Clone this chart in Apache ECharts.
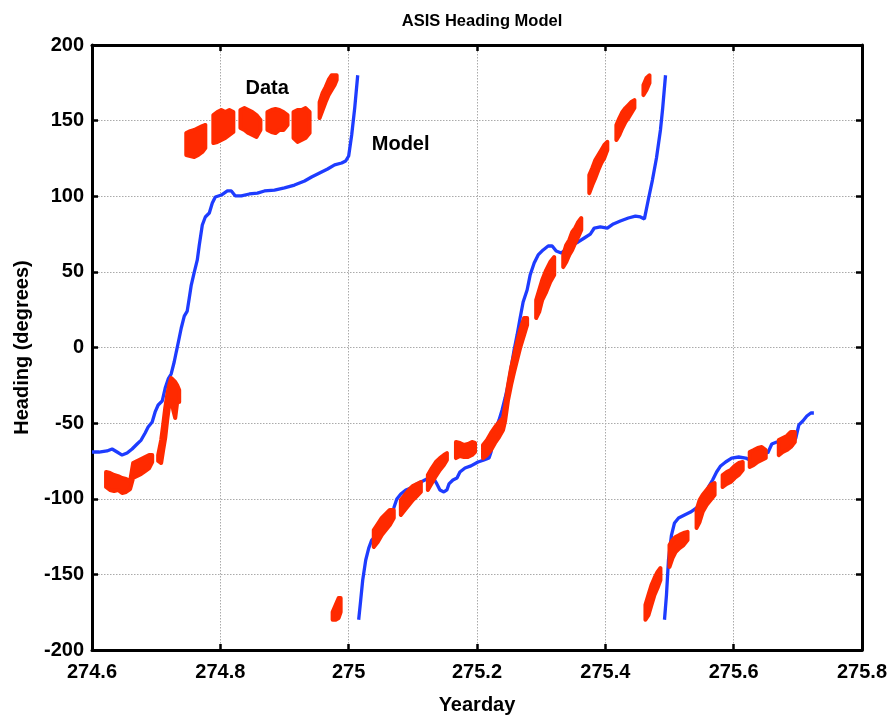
<!DOCTYPE html>
<html>
<head>
<meta charset="utf-8">
<script src="https://cdn.jsdelivr.net/npm/echarts@6/dist/echarts.min.js"></script>
<style>
html,body{margin:0;padding:0;background:#fff;}
#chart{width:896px;height:723px;}
</style>
</head>
<body>
<div id="chart"></div>
<script>
// ---- Model (blue line), three wrapped segments: [yearday, heading]
const modelA = [
  [274.6000,-69.1],[274.6109,-69.1],[274.6234,-68.4],[274.6313,-67.1],[274.6391,-69.1],
  [274.6469,-71.1],[274.6547,-69.8],[274.6625,-67.1],[274.6703,-63.8],[274.6766,-61.2],
  [274.6828,-56.5],[274.6875,-52.6],[274.6938,-49.3],[274.6984,-42.6],[274.7031,-38.0],
  [274.7094,-35.4],[274.7141,-26.8],[274.7188,-20.8],[274.7234,-17.5],[274.7281,-9.6],
  [274.7313,-3.0],[274.7359,6.3],[274.7391,12.9],[274.7438,20.8],[274.7484,24.1],
  [274.7516,32.7],[274.7547,41.3],[274.7594,49.9],[274.7641,57.9],[274.7672,67.8],
  [274.7719,81.0],[274.7766,86.3],[274.7828,88.9],[274.7875,95.5],[274.7922,99.5],
  [274.8016,100.8],[274.8109,103.5],[274.8172,103.5],[274.8234,100.2],[274.8328,100.2],
  [274.8453,101.5],[274.8578,102.1],[274.8688,103.5],[274.8844,104.1],[274.9000,105.5],
  [274.9156,107.4],[274.9313,110.1],[274.9422,112.7],[274.9547,115.4],[274.9672,118.0],
  [274.9781,120.7],[274.9891,122.0],[274.9953,123.3],[275.0000,126.6],[275.0047,140.5],
  [275.0094,158.3],[275.0141,180.0]
];
const modelB = [
  [275.0156,-180.0],[275.0188,-166.9],[275.0219,-153.7],[275.0266,-140.5],[275.0313,-132.6],
  [275.0359,-127.3],[275.0422,-124.6],[275.0500,-120.7],[275.0578,-116.7],[275.0656,-111.4],
  [275.0703,-106.1],[275.0750,-100.2],[275.0813,-96.9],[275.0891,-94.2],[275.0969,-92.9],
  [275.1063,-90.2],[275.1156,-88.3],[275.1250,-86.3],[275.1328,-86.9],[275.1375,-90.2],
  [275.1422,-94.2],[275.1484,-95.5],[275.1531,-94.2],[275.1563,-90.2],[275.1625,-87.6],
  [275.1688,-86.3],[275.1734,-82.3],[275.1813,-79.7],[275.1906,-78.3],[275.2016,-75.7],
  [275.2109,-74.4],[275.2188,-73.1],[275.2219,-69.1],[275.2250,-61.2],[275.2297,-53.2],
  [275.2344,-47.9],[275.2391,-41.3],[275.2438,-33.4],[275.2484,-24.8],[275.2531,-13.6],
  [275.2578,-1.7],[275.2625,8.3],[275.2672,19.5],[275.2719,30.1],[275.2781,38.0],
  [275.2828,47.9],[275.2891,55.9],[275.2953,61.2],[275.3031,64.5],[275.3109,67.1],
  [275.3172,67.1],[275.3234,63.8],[275.3313,62.5],[275.3391,65.1],[275.3484,67.8],
  [275.3578,69.8],[275.3672,72.4],[275.3766,75.0],[275.3828,79.0],[275.3922,79.7],
  [275.4031,79.0],[275.4125,81.7],[275.4234,83.6],[275.4359,85.6],[275.4469,86.9],
  [275.4547,86.3],[275.4609,85.0],[275.4672,98.2],[275.4734,110.7],[275.4797,125.3],
  [275.4859,143.8],[275.4891,157.0],[275.4938,180.0]
];
const modelC = [
  [275.4922,-180.0],[275.4953,-163.6],[275.4984,-140.5],[275.5031,-124.0],[275.5078,-116.0],
  [275.5141,-112.7],[275.5234,-110.7],[275.5328,-108.8],[275.5422,-106.1],[275.5484,-102.8],
  [275.5547,-98.2],[275.5609,-92.2],[275.5672,-87.6],[275.5734,-82.3],[275.5797,-78.3],
  [275.5875,-75.7],[275.5969,-73.1],[275.6078,-72.4],[275.6188,-73.1],[275.6250,-74.4],
  [275.6313,-69.1],[275.6391,-67.1],[275.6469,-67.8],[275.6531,-69.8],[275.6594,-63.8],
  [275.6672,-62.5],[275.6750,-63.8],[275.6828,-66.4],[275.6906,-65.1],[275.6969,-59.8],
  [275.7016,-51.2],[275.7078,-48.6],[275.7141,-45.3],[275.7203,-43.3],[275.7250,-43.3]
];

// ---- Data (red scatter bands): [yearday, lowest heading, highest heading]
const dataA = [
  [274.6219,-92.2,-82.3],[274.6281,-94.2,-83.0],[274.6344,-94.9,-84.3],[274.6406,-94.2,-85.0],
  [274.6469,-96.2,-86.3],[274.6531,-95.5,-86.9],[274.6594,-93.6,-88.3],
  [274.6641,-86.3,-76.4],[274.6703,-85.0,-75.0],[274.6766,-83.6,-73.7],[274.6828,-81.7,-72.4],
  [274.6891,-79.7,-71.1],[274.6938,-75.7,-71.1],
  [274.7031,-75.0,-71.1],[274.7078,-76.4,-61.2],[274.7109,-67.8,-51.2],[274.7141,-59.8,-40.0],
  [274.7172,-47.9,-31.4],[274.7203,-38.0,-24.8],[274.7234,-34.7,-20.2],[274.7266,-41.3,-21.5],
  [274.7297,-46.6,-22.8],[274.7328,-36.0,-25.0],[274.7359,-36.0,-28.1]
];
const dataB = [
  [274.7469,127.3,141.8],[274.7531,126.6,143.1],[274.7594,126.0,143.8],[274.7656,127.3,145.1],
  [274.7719,129.3,146.4],[274.7766,131.9,147.1],
  [274.7891,135.2,153.7],[274.7953,135.9,155.7],[274.8016,137.2,157.0],[274.8078,138.5,155.7],
  [274.8141,140.5,157.0],[274.8203,142.5,155.7],
  [274.8313,145.1,157.0],[274.8375,143.8,158.3],[274.8438,141.8,157.0],[274.8500,140.5,155.7],
  [274.8563,139.2,153.7],[274.8625,143.8,150.4],
  [274.8734,143.8,155.7],[274.8797,142.5,157.0],[274.8859,141.8,157.7],[274.8922,143.8,157.0],
  [274.8984,143.8,155.7],[274.9047,147.1,153.7],
  [274.9141,138.5,155.7],[274.9203,135.9,157.0],[274.9266,137.2,157.0],[274.9328,138.5,158.3],
  [274.9391,141.8,155.7],[274.9484,152.4,152.4],
  [274.9547,151.7,162.3],[274.9594,157.0,168.3],[274.9641,162.3,172.2],[274.9688,166.9,176.9],
  [274.9734,170.2,180.0],[274.9781,173.6,180.0],[274.9813,176.9,180.0]
];
const dataC = [
  [274.9750,-180.0,-174.9],[274.9797,-180.0,-170.2],[274.9844,-178.8,-165.6],[274.9875,-174.9,-165.6]
];
const dataD = [
  [275.0219,-142.5,-142.5],
  [275.0391,-131.9,-120.7],[275.0453,-128.6,-116.7],[275.0516,-123.9,-112.7],[275.0578,-120.7,-110.1],
  [275.0641,-117.4,-107.4],[275.0703,-112.7,-107.4],
  [275.0813,-110.7,-100.8],[275.0875,-107.4,-97.5],[275.0938,-104.1,-94.2],[275.1000,-100.8,-91.6],
  [275.1063,-98.2,-90.2],[275.1125,-95.5,-88.9],
  [275.1234,-94.2,-84.3],[275.1297,-89.6,-79.7],[275.1359,-85.0,-75.7],[275.1422,-81.0,-73.1],
  [275.1484,-77.7,-71.1],[275.1531,-74.4,-69.8],
  [275.1672,-73.1,-62.5],[275.1734,-71.7,-63.1],[275.1797,-72.4,-64.5],[275.1859,-72.4,-63.8],
  [275.1922,-71.1,-62.5],[275.1969,-69.1,-63.1],
  [275.2094,-73.1,-64.5],[275.2156,-71.1,-61.2],[275.2219,-67.8,-56.5],[275.2281,-63.1,-52.6],
  [275.2344,-59.2,-49.3],[275.2406,-54.5,-46.6],[275.2438,-48.6,-38.7],[275.2484,-34.7,-24.8],
  [275.2531,-24.8,-13.6],[275.2578,-16.2,-5.0],[275.2625,-8.3,3.6],[275.2672,-0.3,11.6],
  [275.2734,8.3,19.5],[275.2781,14.9,19.5],
  [275.2922,19.5,31.4],[275.2969,23.5,38.0],[275.3016,31.4,44.6],[275.3078,36.7,51.2],
  [275.3141,43.3,56.5],[275.3203,47.9,59.8],[275.3266,56.5,56.5],
  [275.3344,53.2,61.2],[275.3391,56.5,67.8],[275.3438,61.2,71.1],[275.3484,64.5,76.4],
  [275.3531,69.1,79.0],[275.3578,73.1,83.0],[275.3625,77.7,85.6],
  [275.3703,98.2,98.2],
  [275.3750,102.1,114.0],[275.3797,107.4,118.7],[275.3844,112.1,124.0],[275.3891,117.4,127.3],
  [275.3938,122.0,130.6],[275.3984,125.3,133.9],[275.4031,130.6,136.0],
  [275.4172,137.2,147.1],[275.4219,140.5,151.7],[275.4266,145.1,155.7],[275.4313,149.1,158.3],
  [275.4359,151.7,160.3],[275.4406,155.0,162.3],[275.4453,158.3,163.6],
  [275.4594,166.9,173.6],[275.4641,170.2,178.2],[275.4688,174.9,180.0]
];
const dataE = [
  [275.4625,-180.0,-170.2],[275.4672,-176.9,-163.6],[275.4719,-170.2,-157.0],[275.4766,-163.6,-152.4],
  [275.4813,-159.0,-148.4],[275.4859,-153.7,-145.8],
  [275.5000,-145.1,-130.6],[275.5047,-139.2,-127.3],[275.5094,-135.2,-125.3],[275.5156,-132.6,-123.9],
  [275.5219,-130.6,-122.6],[275.5281,-127.3,-121.9],[275.5375,-119.3,-119.3],
  [275.5422,-119.3,-107.4],[275.5469,-115.4,-100.8],[275.5516,-108.8,-97.5],[275.5578,-104.1,-94.2],
  [275.5641,-100.8,-90.9],[275.5703,-97.5,-89.6],
  [275.5828,-92.2,-84.3],[275.5891,-90.2,-82.3],[275.5953,-88.9,-81.0],[275.6016,-86.3,-78.3],
  [275.6078,-84.3,-76.4],[275.6141,-81.0,-75.7],
  [275.6250,-79.0,-69.1],[275.6313,-77.7,-67.8],[275.6375,-75.7,-66.4],[275.6438,-74.4,-65.8],
  [275.6500,-73.1,-67.8],
  [275.6703,-71.1,-61.2],[275.6766,-69.1,-59.8],[275.6828,-67.8,-58.5],[275.6891,-65.8,-55.9],
  [275.6953,-62.5,-55.9]
];

// ---- Text annotations placed at data coordinates
const labelData = {text: 'Data', at: [274.873, 171.5]};
const labelModel = {text: 'Model', at: [275.081, 134.5]};

const RED = '#ff2a00';
const BLUE = '#1e3cff';
const FONT = '"Liberation Sans", Arial, sans-serif';
const JOIN_GAP = 0.0075; // consecutive samples closer than this belong to one blob

const chart = echarts.init(document.getElementById('chart'), null, {renderer: 'canvas'});

function fmt(v){ return String(parseFloat(Number(v).toFixed(1))); }

const axisCommon = {
  axisLine: {show: true, onZero: false, lineStyle: {color: '#000', width: 3}},
  axisTick: {show: true, inside: true, length: 6, lineStyle: {color: '#000', width: 2.5}},
  splitLine: {show: false}
};

// Split a band array into runs of adjacent samples (blobs)
function runStarts(arr){
  const starts = {};
  let s = 0;
  for (let i = 0; i < arr.length; i++) {
    const isDot = arr[i][1] === arr[i][2];
    const joins = i > 0 && !isDot && arr[i-1][1] !== arr[i-1][2] && (arr[i][0] - arr[i-1][0] < JOIN_GAP);
    if (!joins) { s = i; starts[s] = [i]; } else { starts[s].push(i); }
  }
  return starts;
}

function bandSeries(arr){
  const runs = runStarts(arr);
  return {
    type: 'custom',
    xAxisIndex: 0, yAxisIndex: 0,
    z: 5,
    clip: true,
    encode: {x: 0, y: [1, 2]},
    data: arr,
    renderItem: function(params, api){
      const run = runs[params.dataIndex];
      if (!run) return null;
      if (run.length === 1) {
        const d = arr[run[0]];
        const a = api.coord([d[0], d[1]]);
        const b = api.coord([d[0], d[2]]);
        return {
          type: 'line',
          shape: {x1: a[0], y1: a[1], x2: b[0], y2: b[1]},
          style: {stroke: RED, lineWidth: 4.5, lineCap: 'round'}
        };
      }
      const pts = [];
      run.forEach(function(k){ pts.push(api.coord([arr[k][0], arr[k][2]])); });
      for (let j = run.length - 1; j >= 0; j--) { const k = run[j]; pts.push(api.coord([arr[k][0], arr[k][1]])); }
      return {
        type: 'polygon',
        shape: {points: pts},
        style: {fill: RED, stroke: RED, lineWidth: 4, lineJoin: 'round'}
      };
    }
  };
}

function lineSeries(arr, extra){
  return Object.assign({
    type: 'line',
    xAxisIndex: 0, yAxisIndex: 0,
    data: arr,
    showSymbol: false,
    symbol: 'none',
    smooth: false,
    z: 3,
    lineStyle: {color: BLUE, width: 3.3},
    itemStyle: {color: BLUE}
  }, extra || {});
}

const mpLabel = {
  show: true, position: 'inside', color: '#000',
  fontFamily: FONT, fontWeight: 'bold', fontSize: 20
};

const option = {
  animation: false,
  backgroundColor: '#fff',
  title: {
    text: 'ASIS Heading Model',
    left: 477, top: 8, textAlign: 'center',
    textStyle: {fontFamily: FONT, fontWeight: 'bold', fontSize: 16.5, color: '#000'}
  },
  grid: {left: 92, right: 34, top: 45, bottom: 73, containLabel: false, show: false},
  xAxis: [
    Object.assign({}, axisCommon, {
      type: 'value', position: 'bottom', min: 274.6, max: 275.8, interval: 0.2,
      name: 'Yearday', nameLocation: 'middle', nameGap: 45,
      nameTextStyle: {fontFamily: FONT, fontWeight: 'bold', fontSize: 20, color: '#000'},
      axisLabel: {formatter: fmt, margin: 12, fontFamily: FONT, fontWeight: 'bold', fontSize: 20, color: '#000'},
      splitLine: {show: true, lineStyle: {color: '#aaa', type: [1.5, 1.5], width: 1}}
    }),
    Object.assign({}, axisCommon, {
      type: 'value', position: 'top', min: 274.6, max: 275.8, interval: 0.2,
      axisLabel: {show: false}
    })
  ],
  yAxis: [
    Object.assign({}, axisCommon, {
      type: 'value', position: 'left', min: -200, max: 200, interval: 50,
      name: 'Heading (degrees)', nameLocation: 'middle', nameGap: 60, nameRotate: 90,
      nameTextStyle: {fontFamily: FONT, fontWeight: 'bold', fontSize: 20, color: '#000'},
      axisLabel: {margin: 8, fontFamily: FONT, fontWeight: 'bold', fontSize: 20, color: '#000'},
      splitLine: {show: true, lineStyle: {color: '#aaa', type: [1.5, 1.5], width: 1}}
    }),
    Object.assign({}, axisCommon, {
      type: 'value', position: 'right', min: -200, max: 200, interval: 50,
      axisLabel: {show: false}
    })
  ],
  series: [
    lineSeries(modelA, {
      markPoint: {
        symbol: 'circle', symbolSize: 1, itemStyle: {color: 'rgba(0,0,0,0)'},
        label: mpLabel,
        data: [
          {coord: labelData.at, value: labelData.text, label: Object.assign({}, mpLabel, {formatter: labelData.text})},
          {coord: labelModel.at, value: labelModel.text, label: Object.assign({}, mpLabel, {formatter: labelModel.text})}
        ]
      }
    }),
    lineSeries(modelB),
    lineSeries(modelC),
    bandSeries(dataA),
    bandSeries(dataB),
    bandSeries(dataC),
    bandSeries(dataD),
    bandSeries(dataE)
  ]
};
chart.setOption(option);
</script>
</body>
</html>
